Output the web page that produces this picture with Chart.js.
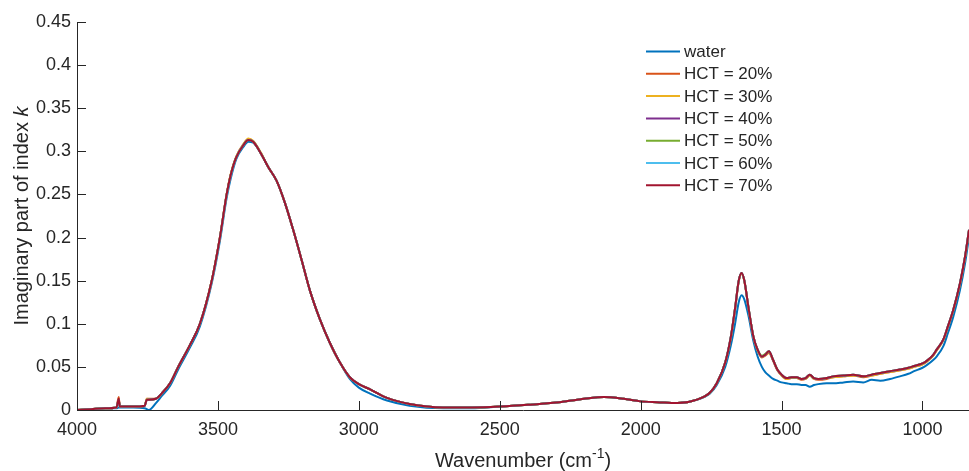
<!DOCTYPE html>
<html>
<head>
<meta charset="utf-8">
<script src="https://cdn.jsdelivr.net/npm/chart.js@4/dist/chart.umd.min.js"></script>
<style>
  html, body { margin: 0; padding: 0; background: #fff; }
  #wrap { width: 969px; height: 471px; }
</style>
</head>
<body>
<div id="wrap"><canvas id="kChart" width="969" height="471"></canvas></div>
<script>
// === data ===
const wavenumber = [
  4000, 3950, 3900, 3860, 3852, 3848, 3800, 3760, 3752, 3745, 3720, 3700,
  3670, 3641, 3600, 3564, 3522, 3493, 3469, 3455, 3435, 3410, 3392, 3375, 3350,
  3320, 3292, 3262, 3233, 3203, 3174, 3138, 3103, 3067, 3032, 3000, 2960,
  2900, 2820, 2700, 2600, 2500, 2400, 2290, 2200, 2130, 2060, 2000, 1940,
  1870, 1800, 1755, 1730, 1700, 1680, 1665, 1652, 1642, 1632, 1618, 1600,
  1585, 1570, 1558, 1545, 1530, 1515, 1500, 1482, 1465, 1446, 1430, 1415,
  1400, 1385, 1370, 1340, 1317, 1280, 1246, 1210, 1180, 1150, 1115, 1080,
  1050, 1030, 1000, 985, 962, 950, 926, 910, 891, 867, 849, 835
];

const kWater = [
  0.000, 0.001, 0.002, 0.002, 0.003, 0.003, 0.003, 0.002, 0.001, 0.000, 0.008, 0.016,
  0.028, 0.047, 0.072, 0.097, 0.147, 0.196, 0.246, 0.268, 0.291, 0.305, 0.311, 0.310, 0.299,
  0.281, 0.266, 0.240, 0.209, 0.174, 0.139, 0.105, 0.078, 0.055, 0.036, 0.026, 0.019,
  0.011, 0.005, 0.002, 0.002, 0.004, 0.006, 0.009, 0.013, 0.015, 0.013, 0.010, 0.009,
  0.008, 0.012, 0.019, 0.029, 0.050, 0.075, 0.100, 0.125, 0.133, 0.128, 0.110, 0.080,
  0.062, 0.050, 0.044, 0.040, 0.036, 0.034, 0.032, 0.031, 0.030, 0.030, 0.029, 0.029,
  0.027, 0.029, 0.030, 0.031, 0.031, 0.032, 0.033, 0.032, 0.035, 0.034, 0.036, 0.039,
  0.042, 0.045, 0.049, 0.052, 0.058, 0.062, 0.074, 0.089, 0.108, 0.139, 0.170, 0.201
];

const kHct20 = [
  0.000, 0.001, 0.002, 0.003, 0.015, 0.004, 0.004, 0.005, 0.013, 0.013, 0.013, 0.019,
  0.031, 0.050, 0.075, 0.100, 0.150, 0.200, 0.250, 0.273, 0.294, 0.308, 0.314, 0.312, 0.299,
  0.281, 0.266, 0.240, 0.209, 0.174, 0.139, 0.105, 0.078, 0.055, 0.038, 0.030, 0.024,
  0.014, 0.007, 0.003, 0.003, 0.004, 0.006, 0.009, 0.013, 0.015, 0.013, 0.010, 0.009,
  0.008, 0.012, 0.020, 0.031, 0.055, 0.084, 0.117, 0.149, 0.158, 0.149, 0.119, 0.085,
  0.069, 0.061, 0.063, 0.066, 0.057, 0.046, 0.040, 0.036, 0.037, 0.037, 0.035, 0.036,
  0.040, 0.036, 0.035, 0.036, 0.038, 0.039, 0.040, 0.038, 0.040, 0.042, 0.044, 0.046,
  0.048, 0.050, 0.053, 0.056, 0.063, 0.069, 0.081, 0.096, 0.115, 0.146, 0.177, 0.208
];

const kHct30 = [
  0.000, 0.001, 0.002, 0.003, 0.012, 0.004, 0.004, 0.005, 0.013, 0.012, 0.013, 0.019,
  0.031, 0.050, 0.075, 0.100, 0.150, 0.200, 0.250, 0.273, 0.294, 0.308, 0.315, 0.312, 0.300,
  0.281, 0.266, 0.240, 0.209, 0.174, 0.139, 0.105, 0.078, 0.055, 0.038, 0.030, 0.024,
  0.014, 0.007, 0.003, 0.003, 0.004, 0.006, 0.009, 0.013, 0.015, 0.013, 0.010, 0.009,
  0.008, 0.012, 0.020, 0.031, 0.055, 0.084, 0.118, 0.150, 0.158, 0.150, 0.120, 0.085,
  0.069, 0.062, 0.064, 0.067, 0.058, 0.047, 0.040, 0.036, 0.037, 0.037, 0.036, 0.036,
  0.040, 0.036, 0.036, 0.037, 0.038, 0.039, 0.040, 0.039, 0.040, 0.042, 0.044, 0.046,
  0.048, 0.050, 0.053, 0.056, 0.063, 0.069, 0.081, 0.096, 0.115, 0.146, 0.177, 0.208
];

const kHct40 = [
  0.000, 0.001, 0.002, 0.003, 0.011, 0.004, 0.004, 0.005, 0.012, 0.012, 0.013, 0.019,
  0.031, 0.050, 0.075, 0.100, 0.150, 0.200, 0.250, 0.272, 0.293, 0.307, 0.313, 0.311, 0.299,
  0.281, 0.266, 0.240, 0.209, 0.174, 0.139, 0.105, 0.078, 0.055, 0.038, 0.030, 0.024,
  0.014, 0.007, 0.003, 0.003, 0.004, 0.006, 0.009, 0.013, 0.015, 0.013, 0.010, 0.009,
  0.008, 0.012, 0.020, 0.031, 0.055, 0.085, 0.118, 0.150, 0.159, 0.150, 0.120, 0.085,
  0.070, 0.062, 0.064, 0.068, 0.058, 0.047, 0.041, 0.037, 0.038, 0.038, 0.036, 0.037,
  0.041, 0.037, 0.036, 0.037, 0.039, 0.040, 0.041, 0.039, 0.041, 0.043, 0.045, 0.047,
  0.049, 0.051, 0.054, 0.057, 0.064, 0.070, 0.082, 0.097, 0.116, 0.147, 0.178, 0.209
];

const kHct50 = [
  0.000, 0.001, 0.002, 0.003, 0.012, 0.004, 0.004, 0.005, 0.012, 0.012, 0.013, 0.019,
  0.031, 0.050, 0.075, 0.100, 0.150, 0.200, 0.250, 0.272, 0.293, 0.307, 0.313, 0.311, 0.299,
  0.281, 0.266, 0.240, 0.209, 0.174, 0.139, 0.105, 0.078, 0.055, 0.038, 0.030, 0.024,
  0.014, 0.007, 0.003, 0.003, 0.004, 0.006, 0.009, 0.013, 0.015, 0.013, 0.010, 0.009,
  0.008, 0.012, 0.020, 0.031, 0.055, 0.085, 0.118, 0.150, 0.159, 0.150, 0.120, 0.085,
  0.070, 0.063, 0.065, 0.068, 0.058, 0.047, 0.041, 0.037, 0.038, 0.038, 0.036, 0.037,
  0.041, 0.037, 0.036, 0.037, 0.039, 0.040, 0.041, 0.039, 0.041, 0.043, 0.045, 0.047,
  0.049, 0.051, 0.054, 0.057, 0.064, 0.070, 0.082, 0.097, 0.116, 0.147, 0.178, 0.209
];

const kHct60 = [
  0.000, 0.001, 0.002, 0.003, 0.012, 0.004, 0.004, 0.005, 0.012, 0.012, 0.013, 0.019,
  0.031, 0.050, 0.075, 0.100, 0.149, 0.199, 0.249, 0.271, 0.293, 0.307, 0.313, 0.311, 0.299,
  0.281, 0.266, 0.240, 0.209, 0.174, 0.139, 0.105, 0.078, 0.055, 0.038, 0.030, 0.024,
  0.014, 0.007, 0.003, 0.003, 0.004, 0.006, 0.009, 0.013, 0.015, 0.013, 0.010, 0.009,
  0.008, 0.012, 0.020, 0.031, 0.055, 0.085, 0.118, 0.150, 0.159, 0.150, 0.120, 0.085,
  0.070, 0.062, 0.064, 0.068, 0.058, 0.047, 0.041, 0.037, 0.038, 0.038, 0.036, 0.037,
  0.041, 0.037, 0.036, 0.037, 0.039, 0.040, 0.041, 0.039, 0.041, 0.043, 0.045, 0.047,
  0.049, 0.051, 0.054, 0.057, 0.064, 0.070, 0.082, 0.097, 0.116, 0.147, 0.178, 0.209
];

const kHct70 = [
  0.000, 0.001, 0.002, 0.003, 0.013, 0.004, 0.004, 0.005, 0.012, 0.012, 0.013, 0.019,
  0.031, 0.050, 0.075, 0.100, 0.150, 0.200, 0.250, 0.272, 0.293, 0.307, 0.313, 0.311, 0.299,
  0.281, 0.266, 0.240, 0.209, 0.174, 0.139, 0.105, 0.078, 0.055, 0.038, 0.030, 0.024,
  0.014, 0.007, 0.003, 0.003, 0.004, 0.006, 0.009, 0.013, 0.015, 0.013, 0.010, 0.009,
  0.008, 0.012, 0.020, 0.031, 0.055, 0.085, 0.118, 0.150, 0.159, 0.150, 0.120, 0.085,
  0.070, 0.062, 0.064, 0.068, 0.058, 0.047, 0.041, 0.037, 0.038, 0.038, 0.036, 0.037,
  0.041, 0.037, 0.036, 0.037, 0.039, 0.040, 0.041, 0.039, 0.041, 0.043, 0.045, 0.047,
  0.049, 0.051, 0.054, 0.057, 0.064, 0.070, 0.082, 0.097, 0.116, 0.147, 0.178, 0.209
];

const seriesLabels = ["water", "HCT = 20%", "HCT = 30%", "HCT = 40%", "HCT = 50%", "HCT = 60%", "HCT = 70%"];
const seriesValues = [kWater, kHct20, kHct30, kHct40, kHct50, kHct60, kHct70];
const seriesColors = ["#0072BD", "#D95319", "#EDB120", "#7E2F8E", "#77AC30", "#4DBEEE", "#A2142F"];

const xTickValues = [4000, 3500, 3000, 2500, 2000, 1500, 1000];
const yTickValues = [0, 0.05, 0.1, 0.15, 0.2, 0.25, 0.3, 0.35, 0.4, 0.45];

// === style constants ===
const AXIS_COLOR = "#262626";
const FONT = "'Liberation Sans', Arial, Helvetica, sans-serif";
const TICK_LEN = 9;

// === datasets ===
const datasets = seriesLabels.map((label, i) => ({
  label: label,
  data: wavenumber.map((wn, j) => ({ x: wn, y: seriesValues[i][j] })),
  borderColor: seriesColors[i],
  backgroundColor: seriesColors[i],
  borderWidth: 2,
  pointRadius: 0,
  cubicInterpolationMode: "monotone",
  order: seriesLabels.length - i // last series on top
}));

// custom bits: inward ticks, axis titles, legend in the upper right
const decorPlugin = {
  id: "decor",
  afterDraw(chart) {
    const c = chart.ctx;
    const xs = chart.scales.x;
    const ys = chart.scales.y;
    const area = chart.chartArea;

    c.save();
    c.strokeStyle = AXIS_COLOR;
    c.lineWidth = 1;
    c.beginPath();
    xTickValues.forEach(v => {
      const px = Math.round(xs.getPixelForValue(v)) + 0.5;
      c.moveTo(px, area.bottom);
      c.lineTo(px, area.bottom - TICK_LEN);
    });
    yTickValues.forEach(v => {
      const py = Math.round(ys.getPixelForValue(v)) + 0.5;
      c.moveTo(area.left, py);
      c.lineTo(area.left + TICK_LEN, py);
    });
    c.stroke();

    // x title with superscript
    c.fillStyle = AXIS_COLOR;
    c.textBaseline = "alphabetic";
    const main = "Wavenumber (cm";
    const sup = "-1";
    const close = ")";
    c.font = "20px " + FONT;
    const wMain = c.measureText(main).width;
    const wClose = c.measureText(close).width;
    c.font = "14px " + FONT;
    const wSup = c.measureText(sup).width;
    const x0 = (area.left + area.right) / 2 - (wMain + wSup + wClose) / 2;
    const base = 467;
    c.font = "20px " + FONT;
    c.textAlign = "left";
    c.fillText(main, x0, base);
    c.font = "14px " + FONT;
    c.fillText(sup, x0 + wMain, base - 9);
    c.font = "20px " + FONT;
    c.fillText(close, x0 + wMain + wSup, base);

    // y title with italic k
    const yMain = "Imaginary part of index ";
    const yK = "k";
    c.font = "20px " + FONT;
    const wy1 = c.measureText(yMain).width;
    c.font = "italic 20px " + FONT;
    const wy2 = c.measureText(yK).width;
    c.translate(28, (area.top + area.bottom) / 2);
    c.rotate(-Math.PI / 2);
    const s0 = -(wy1 + wy2) / 2;
    c.font = "20px " + FONT;
    c.fillText(yMain, s0, 0);
    c.font = "italic 20px " + FONT;
    c.fillText(yK, s0 + wy1, 0);
    c.restore();

    // legend
    c.save();
    c.font = "17px " + FONT;
    c.textBaseline = "middle";
    c.textAlign = "left";
    seriesLabels.forEach((label, i) => {
      const y = 51.5 + i * 22.3;
      c.strokeStyle = seriesColors[i];
      c.lineWidth = 2;
      c.beginPath();
      c.moveTo(646, y);
      c.lineTo(680, y);
      c.stroke();
      c.fillStyle = AXIS_COLOR;
      c.fillText(label, 684, y + 1);
    });
    c.restore();
  }
};

const chartConfig = {
  type: "line",
  data: { datasets: datasets },
  options: {
    responsive: false,
    animation: false,
    layout: { padding: { top: 22, right: 0, left: 0, bottom: 0 } },
    plugins: {
      legend: { display: false },
      tooltip: { enabled: false }
    },
    scales: {
      x: {
        type: "linear",
        reverse: true,
        min: 835,
        max: 4000,
        afterBuildTicks: scale => {
          scale.ticks = xTickValues.map(v => ({ value: v }));
        },
        afterFit: scale => { scale.height = 61; },
        grid: { display: false, drawTicks: false },
        border: { display: true, color: AXIS_COLOR, width: 1 },
        ticks: {
          color: AXIS_COLOR,
          padding: 9,
          maxRotation: 0,
          autoSkip: false,
          font: { family: FONT, size: 18 },
          callback: v => String(v)
        }
      },
      y: {
        min: 0,
        max: 0.45,
        afterBuildTicks: scale => {
          scale.ticks = yTickValues.map(v => ({ value: v }));
        },
        afterFit: scale => { scale.width = 77; },
        grid: { display: false, drawTicks: false },
        border: { display: true, color: AXIS_COLOR, width: 1 },
        ticks: {
          color: AXIS_COLOR,
          padding: 6,
          autoSkip: false,
          font: { family: FONT, size: 18 },
          callback: v => String(+v.toFixed(2))
        }
      }
    }
  },
  plugins: [decorPlugin]
};

const kChart = new Chart(document.getElementById("kChart").getContext("2d"), chartConfig);
</script>
</body>
</html>
